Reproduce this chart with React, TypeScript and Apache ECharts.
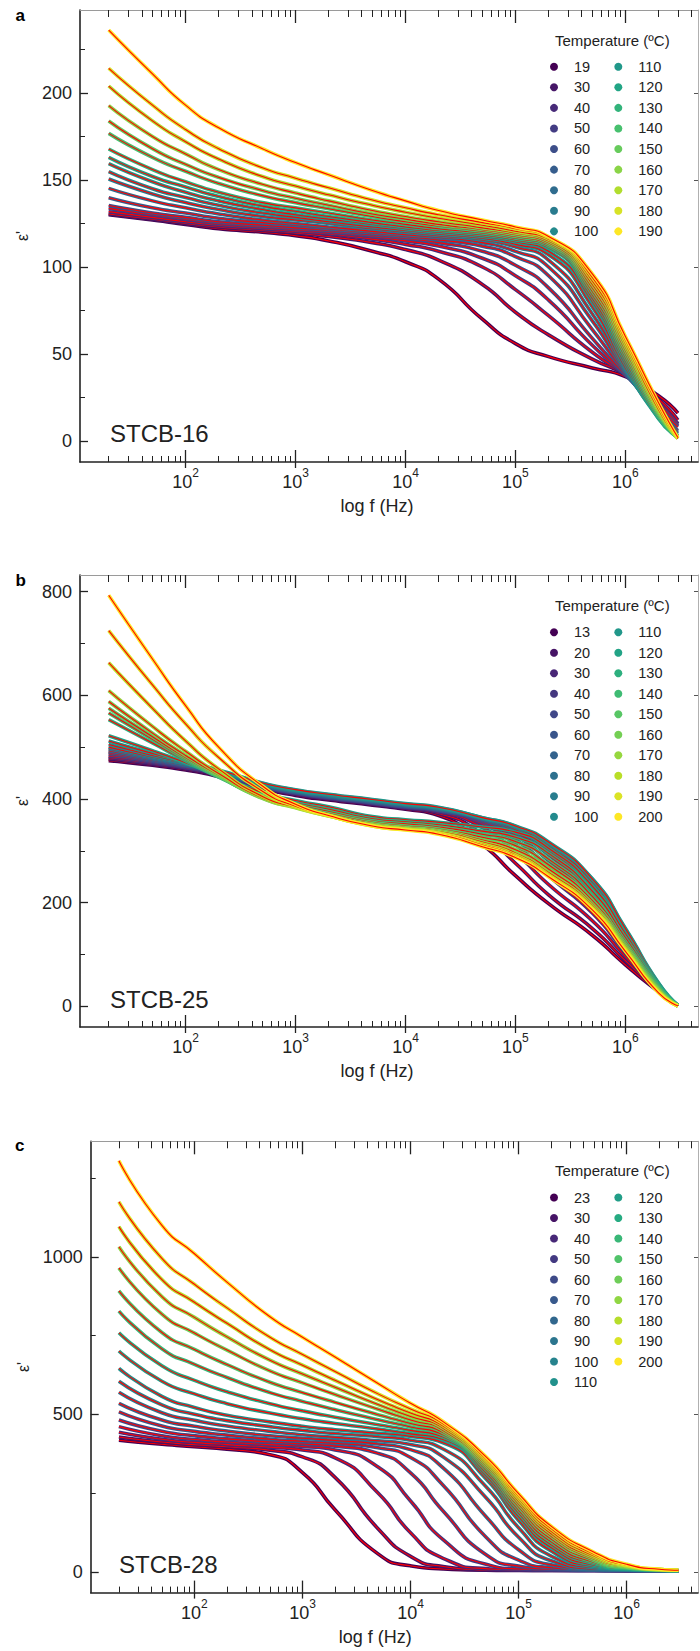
import React, { useEffect, useRef } from "react";
import * as echarts from "echarts";

const FONT = '"Liberation Sans", Arial, Helvetica, sans-serif';
const INK = "#222222";

const FREQ_HZ = [20, 50, 100, 200, 500, 1000, 2000, 5000, 10000, 20000, 50000, 100000, 200000, 500000, 1000000, 2000000, 3000000];

// x tick labels: 10^2 ... 10^6
const X_TICK_EXP = [2, 3, 4, 5, 6];

// ---------- panel a : STCB-16 ----------
const TEMPS_A = [19, 30, 40, 50, 60, 70, 80, 90, 100, 110, 120, 130, 140, 150, 160, 170, 180, 190];
const EPS_A = [
  [130, 127, 124.5, 122, 120, 118, 115, 109, 103, 93, 70, 56, 48.5, 42, 37, 26, 16],
  [130.5, 127.5, 125, 123, 121, 119.5, 117.5, 114, 110, 104, 90, 74, 61, 47, 38, 24, 12],
  [131.8, 128.5, 126, 124, 122, 120.5, 119, 116, 113, 109, 100, 87, 72, 51, 38, 22, 10],
  [133.7, 130, 127.5, 125, 123, 121.5, 120, 117.5, 115, 112, 105, 95, 81, 55, 38, 21, 9],
  [135.3, 131, 128.5, 126, 124, 122.5, 121, 118.5, 116.5, 114, 109, 101, 88, 59, 38, 19, 8],
  [139.8, 134, 131, 128, 125.5, 124, 122, 119.5, 117.5, 115.5, 112, 106, 95, 64, 39, 17, 6],
  [145.2, 138, 134, 130.5, 127, 125, 123, 120.5, 118.5, 117, 114, 109, 100, 69, 40, 16, 5],
  [150.6, 142, 137, 133, 129, 127, 125, 122, 120, 118, 115.5, 111.5, 104, 73, 41, 15, 4],
  [154.8, 145, 140, 135.5, 131, 128.5, 126, 123, 121, 119, 116.5, 113, 107, 77, 42, 14, 3],
  [159.4, 149, 143, 138, 133, 130, 127.5, 124.5, 122, 120, 117.5, 114.5, 109, 80, 44, 13, 3],
  [163, 152, 146, 140.5, 135, 132, 129, 125.5, 123, 121, 118.5, 115.5, 111, 82, 46, 13, 2],
  [167.8, 156, 149, 143, 137, 134, 131, 127, 124.5, 122, 119.5, 116.5, 112, 84, 48, 14, 2],
  [176.8, 163, 155, 148, 141, 137, 133.5, 129, 126, 123.5, 120.5, 117.5, 113, 86, 50, 15, 2],
  [183.9, 168, 159, 151.5, 144, 139.5, 135.5, 130.5, 127.5, 124.5, 121.5, 118.5, 114, 88, 52, 16, 2],
  [192.7, 175, 165, 156, 147.5, 142.5, 138, 132.5, 129, 126, 122.5, 119.5, 115, 90, 54, 17, 1.5],
  [204, 184, 172, 162, 152, 146.5, 141.5, 135.5, 131.5, 128, 124, 120.5, 116, 92, 56, 18, 1.5],
  [214.2, 193, 179, 168, 157, 151, 145.5, 138.5, 134, 130, 125.5, 122, 117, 94, 58, 20, 1.5],
  [236.2, 211, 193, 180, 168, 160, 153, 144, 138, 132.5, 127, 123, 117.5, 96, 60, 22, 2],
];
const Y_TICKS_A = [0, 50, 100, 150, 200];
const Y_MINOR_A = [25, 75, 125, 175, 225];

// ---------- panel b : STCB-25 ----------
const TEMPS_B = [13, 20, 30, 40, 50, 60, 70, 80, 90, 100, 110, 120, 130, 140, 150, 160, 170, 180, 190, 200];
const EPS_B = [
  [474, 465, 456, 443, 420, 407, 398, 388, 380, 368, 312, 252, 198, 137, 80, 28, 1],
  [477, 467, 458, 445, 422, 409, 400, 390, 382, 372, 332, 276, 215, 150, 88, 30, 1],
  [480, 469, 460, 447, 423, 410, 401, 391, 383, 375, 345, 296, 235, 165, 96, 31, 1],
  [483, 471, 461, 448, 424, 411, 402, 392, 384, 377, 352, 312, 252, 180, 104, 32, 1],
  [487, 473, 463, 449, 425, 412, 403, 393, 385, 378, 356, 322, 268, 194, 112, 34, 1],
  [490, 475, 464, 450, 426, 413, 404, 394, 386, 379, 359, 330, 281, 207, 120, 36, 1],
  [493, 477, 465, 451, 427, 414, 405, 395, 387, 380, 361, 336, 292, 219, 128, 38, 1],
  [497, 479, 467, 452, 428, 415, 406, 396, 388, 381, 362, 341, 301, 231, 136, 40, 1],
  [500, 481, 468, 453, 429, 416, 407, 397, 389, 382, 363, 345, 309, 240, 143, 42, 1],
  [505, 484, 470, 454, 430, 417, 408, 398, 390, 383, 364, 347, 315, 245, 148, 44, 2],
  [512, 488, 472, 456, 431, 418, 409, 399, 391, 384, 364, 348, 317, 246, 150, 45, 2],
  [522, 493, 470, 446, 413, 397, 385, 366, 360, 355, 346, 336, 305, 232, 140, 42, 1],
  [553, 508, 474, 442, 406, 392, 380, 362, 356, 350, 338, 326, 295, 222, 132, 40, 1],
  [566, 515, 477, 443, 404, 389, 376, 358, 352, 346, 332, 318, 284, 212, 125, 37, 1],
  [575, 520, 480, 444, 402, 386, 372, 355, 348, 342, 326, 310, 273, 204, 120, 34, 1],
  [588, 527, 484, 446, 401, 384, 369, 352, 345, 339, 321, 302, 265, 198, 116, 32, 1],
  [609, 540, 492, 449, 402, 383, 367, 350, 343, 337, 317, 296, 258, 194, 112, 30, 1],
  [663, 575, 512, 458, 405, 384, 367, 349, 342, 335, 313, 292, 254, 190, 110, 28, 1],
  [725, 620, 545, 480, 415, 386, 368, 348, 341, 334, 311, 289, 252, 188, 108, 27, 1],
  [793, 670, 580, 500, 425, 390, 368, 348, 340, 332, 308, 287, 250, 186, 106, 26, 1],
];
const Y_TICKS_B = [0, 200, 400, 600, 800];
const Y_MINOR_B = [100, 300, 500, 700];

// ---------- panel c : STCB-28 ----------
const TEMPS_C = [23, 30, 40, 50, 60, 70, 80, 90, 100, 110, 120, 130, 140, 150, 160, 170, 180, 190, 200];
const EPS_C = [
  [418, 405, 397, 389, 372, 315, 197, 57, 19, 9, 5, 4, 4, 4, 3, 3, 3],
  [428, 412, 404, 397, 386, 365, 300, 137, 49, 17, 6, 5, 4, 4, 4, 3, 3],
  [443, 421, 411, 404, 396, 387, 362, 250, 124, 43, 10, 6, 5, 4, 4, 3, 3],
  [461, 432, 420, 412, 404, 398, 387, 333, 225, 102, 24, 9, 6, 4, 4, 3, 3],
  [482, 446, 432, 422, 412, 406, 399, 376, 314, 193, 54, 18, 8, 5, 4, 3, 3],
  [508, 463, 446, 434, 421, 414, 408, 394, 363, 275, 110, 37, 13, 5, 4, 3, 3],
  [535, 482, 462, 447, 432, 424, 417, 406, 388, 330, 175, 70, 22, 7, 5, 4, 3],
  [570, 505, 481, 463, 446, 435, 427, 416, 404, 365, 235, 110, 35, 9, 6, 4, 3],
  [605, 530, 500, 480, 461, 449, 439, 429, 418, 390, 270, 140, 50, 13, 7, 5, 4],
  [646, 557, 522, 497, 476, 462, 451, 440, 430, 410, 295, 163, 66, 17, 8, 5, 4],
  [701, 605, 565, 534, 504, 486, 471, 453, 438, 420, 305, 175, 77, 21, 9, 5, 4],
  [759, 654, 608, 572, 534, 511, 491, 467, 449, 428, 314, 186, 86, 26, 10, 6, 4],
  [828, 708, 659, 617, 569, 541, 515, 483, 460, 435, 323, 196, 95, 30, 12, 6, 4],
  [892, 760, 706, 658, 602, 569, 538, 499, 471, 442, 331, 206, 104, 35, 13, 6, 4],
  [965, 818, 758, 704, 638, 600, 563, 516, 482, 449, 338, 215, 113, 40, 15, 7, 5],
  [1032, 874, 808, 746, 672, 628, 586, 531, 493, 456, 345, 224, 121, 45, 17, 7, 5],
  [1096, 928, 856, 789, 705, 656, 608, 546, 504, 463, 352, 232, 129, 50, 19, 7, 5],
  [1175, 995, 913, 838, 745, 690, 636, 565, 517, 470, 358, 240, 137, 56, 21, 8, 5],
  [1305, 1100, 1010, 920, 810, 745, 682, 598, 535, 477, 365, 248, 145, 62, 24, 8, 5],
];
const Y_TICKS_C = [0, 500, 1000];
const Y_MINOR_C = [250, 750, 1250];

// ---------- styling helpers ----------
const X_MIN = 1.04;
const X_MAX = 6.66;
const X_MINOR: number[] = [];
for (let n = 1; n <= 6; n++) {
  for (let k = 2; k <= 9; k++) {
    const v = Math.log10(k * Math.pow(10, n));
    if (v > X_MIN && v < X_MAX) X_MINOR.push(v);
  }
}

const VIRIDIS = ["#440154", "#482475", "#414487", "#355f8d", "#2a788e", "#21918c", "#22a884", "#44bf70", "#7ad151", "#bddf26", "#fde725"];
function hexToRgb(h: string) {
  return [parseInt(h.slice(1, 3), 16), parseInt(h.slice(3, 5), 16), parseInt(h.slice(5, 7), 16)];
}
function viridis(t: number) {
  const p = Math.max(0, Math.min(1, t)) * (VIRIDIS.length - 1);
  const i = Math.min(Math.floor(p), VIRIDIS.length - 2);
  const f = p - i;
  const a = hexToRgb(VIRIDIS[i]);
  const b = hexToRgb(VIRIDIS[i + 1]);
  const c = a.map((v, j) => Math.round(v + (b[j] - v) * f));
  return `rgb(${c[0]},${c[1]},${c[2]})`;
}

const PANELS = [
  {
    key: "a", sample: "STCB-16", temps: TEMPS_A, eps: EPS_A, yTicks: Y_TICKS_A, yMinor: Y_MINOR_A,
    yMin: -12.07, yMax: 247.7, grid: { left: 80, top: 10, width: 618, height: 452 },
    yNameGap: 50, xNamePad: 24, letter: [15.5, 15], samplePos: [110, 433],
    legendTitleY: 40.7, legendTop: 58.7, legendGap: 4.58, split: 9,
  },
  {
    key: "b", sample: "STCB-25", temps: TEMPS_B, eps: EPS_B, yTicks: Y_TICKS_B, yMinor: Y_MINOR_B,
    yMin: -40, yMax: 832.2, grid: { left: 80, top: 575, width: 618, height: 452 },
    yNameGap: 50, xNamePad: 24, letter: [15.5, 580], samplePos: [110, 999.3],
    legendTitleY: 605.7, legendTop: 624.3, legendGap: 4.49, split: 10,
  },
  {
    key: "c", sample: "STCB-28", temps: TEMPS_C, eps: EPS_C, yTicks: Y_TICKS_C, yMinor: Y_MINOR_C,
    yMin: -66, yMax: 1367, grid: { left: 90.7, top: 1141.3, width: 607.3, height: 451.3 },
    yNameGap: 59, xNamePad: 38, letter: [15, 1145], samplePos: [119, 1564.5],
    legendTitleY: 1170, legendTop: 1189.5, legendGap: 4.5, split: 10,
  },
];

function buildOption() {
  const grid: any[] = [];
  const xAxis: any[] = [];
  const yAxis: any[] = [];
  const series: any[] = [];
  const legend: any[] = [];
  const graphic: any[] = [];
  const freqLog = FREQ_HZ.map((f) => Math.log10(f));

  PANELS.forEach((p, gi) => {
    grid.push({ ...p.grid, containLabel: false });
    const xBase = {
      gridIndex: gi, type: "value", min: X_MIN, max: X_MAX,
      splitLine: { show: false }, axisLabel: { show: false },
      axisLine: { show: false, onZero: false }, axisTick: { show: false },
    };
    const x0 = xAxis.length;
    xAxis.push({
      ...xBase, position: "bottom",
      axisLine: { show: true, onZero: false, lineStyle: { color: INK, width: 1.6 } },
      axisTick: { show: true, inside: true, length: 12, customValues: X_TICK_EXP, lineStyle: { color: INK, width: 1.3 } },
      axisLabel: {
        show: true, customValues: X_TICK_EXP, margin: 5,
        formatter: (v: number) => `{b|10}{s|${Math.round(v)}}`,
        rich: {
          b: { fontSize: 18, lineHeight: 30, fontFamily: FONT, color: INK },
          s: { fontSize: 12, lineHeight: 12, verticalAlign: "top", fontFamily: FONT, color: INK },
        },
      },
      name: "log f (Hz)", nameLocation: "middle", nameGap: 35,
      nameTextStyle: { fontSize: 18, color: INK, fontFamily: FONT, padding: [0, p.xNamePad, 0, 0] },
    });
    xAxis.push({
      ...xBase, position: "bottom",
      axisTick: { show: true, inside: false, length: 6, customValues: X_TICK_EXP, lineStyle: { color: INK, width: 1.3 } },
    });
    xAxis.push({
      ...xBase, position: "bottom",
      axisTick: { show: true, inside: true, length: 6, customValues: X_MINOR, lineStyle: { color: INK, width: 1 } },
    });
    xAxis.push({
      ...xBase, position: "top",
      axisLine: { show: true, onZero: false, lineStyle: { color: "#9a9a9a", width: 1 } },
      axisTick: { show: true, inside: true, length: 13, customValues: X_TICK_EXP, lineStyle: { color: INK, width: 1.3 } },
    });
    xAxis.push({
      ...xBase, position: "top",
      axisTick: { show: true, inside: true, length: 7, customValues: X_MINOR, lineStyle: { color: INK, width: 1 } },
    });

    const yBase = {
      gridIndex: gi, type: "value", min: p.yMin, max: p.yMax,
      splitLine: { show: false }, axisLabel: { show: false },
      axisLine: { show: false, onZero: false }, axisTick: { show: false },
    };
    const y0 = yAxis.length;
    yAxis.push({
      ...yBase, position: "left",
      axisLine: { show: true, onZero: false, lineStyle: { color: INK, width: 1.6 } },
      axisTick: { show: true, inside: true, length: 8, customValues: p.yTicks, lineStyle: { color: INK, width: 1.3 } },
      axisLabel: {
        show: true, customValues: p.yTicks, margin: 8, fontSize: 18, color: INK, fontFamily: FONT,
        formatter: (v: number) => String(Math.round(v)),
      },
      name: "ε'", nameLocation: "middle", nameGap: p.yNameGap,
      nameTextStyle: { fontSize: 16, color: INK, fontFamily: FONT },
    });
    yAxis.push({
      ...yBase, position: "left",
      axisTick: { show: true, inside: true, length: 5, customValues: p.yMinor, lineStyle: { color: INK, width: 1 } },
    });
    yAxis.push({
      ...yBase, position: "right",
      axisLine: { show: true, onZero: false, lineStyle: { color: "#b0b0b0", width: 1 } },
      axisTick: { show: true, inside: true, length: 4, customValues: p.yTicks, lineStyle: { color: "#555", width: 1 } },
    });

    const n = p.temps.length;
    const names: string[] = [];
    p.temps.forEach((T, i) => {
      const color = viridis(i / (n - 1));
      const data = freqLog.map((lx, j) => [lx, p.eps[i][j]]);
      const name = `${p.key}${T}`;
      names.push(name);
      const common = {
        type: "line", xAxisIndex: x0, yAxisIndex: y0, data,
        showSymbol: false, symbol: "none", smooth: 0.6,
        silent: true, emphasis: { disabled: true }, animation: false,
      };
      series.push({ ...common, name, itemStyle: { color }, lineStyle: { color, width: 3.6 } });
      series.push({ ...common, name: `${name} fit`, itemStyle: { color: "#ff0000" }, lineStyle: { color: "#ff0000", width: 1.1 } });
    });

    const legendCommon = {
      type: "plain", orient: "vertical", padding: 0, itemWidth: 30, itemHeight: 8,
      icon: "circle", selectedMode: false, itemGap: p.legendGap, top: p.legendTop,
      formatter: (nm: string) => nm.slice(1),
      textStyle: { fontSize: 14.5, color: INK, fontFamily: FONT, lineHeight: 16 },
    };
    legend.push({ ...legendCommon, left: 550, data: names.slice(0, p.split) });
    legend.push({ ...legendCommon, left: 614.3, data: names.slice(p.split) });

    graphic.push({
      type: "text", x: p.letter[0], y: p.letter[1],
      style: { text: p.key, fill: "#000", fontSize: 17, fontWeight: "bold", fontFamily: FONT, align: "left", verticalAlign: "middle" },
    });
    graphic.push({
      type: "text", x: p.samplePos[0], y: p.samplePos[1],
      style: { text: p.sample, fill: INK, fontSize: 24, fontFamily: FONT, align: "left", verticalAlign: "middle" },
    });
    graphic.push({
      type: "text", x: 555, y: p.legendTitleY,
      style: { text: "Temperature (ºC)", fill: INK, fontSize: 15, fontFamily: FONT, align: "left", verticalAlign: "middle" },
    });
  });

  return {
    animation: false,
    backgroundColor: "#ffffff",
    textStyle: { fontFamily: FONT },
    grid, xAxis, yAxis, series, legend,
    graphic: { elements: graphic },
  };
}

export default function App() {
  const ref = useRef<HTMLDivElement | null>(null);
  useEffect(() => {
    if (!ref.current) return;
    const chart = echarts.init(ref.current, undefined, { renderer: "svg" });
    chart.setOption(buildOption() as any);
    return () => chart.dispose();
  }, []);
  return (
    <div
      ref={ref}
      style={{ position: "absolute", left: 0, top: 0, width: 700, height: 1651, background: "#fff" }}
    />
  );
}
